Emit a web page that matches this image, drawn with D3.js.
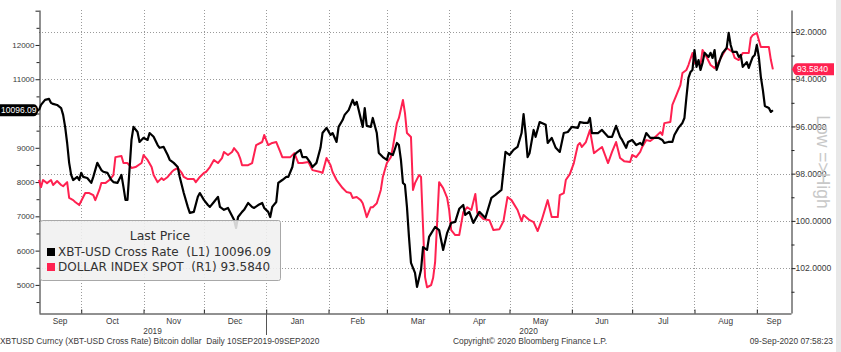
<!DOCTYPE html>
<html>
<head>
<meta charset="utf-8">
<script src="https://cdnjs.cloudflare.com/ajax/libs/d3/7.8.5/d3.min.js"></script>
<style>
  html, body { margin: 0; padding: 0; background: #fff; }
  svg { display: block; font-family: "Liberation Sans", Arial, sans-serif; }
</style>
</head>
<body>
<div id="vis"></div>
<script>
// XBT-USD vs DXY (inverted) – Bloomberg style chart

// Bitcoin (left axis)
const xbtDates = ["2019-09-10","2019-09-11","2019-09-13","2019-09-15","2019-09-16","2019-09-17","2019-09-19","2019-09-21","2019-09-22","2019-09-23","2019-09-24","2019-09-25","2019-09-26","2019-09-27","2019-09-29","2019-09-30",
  "2019-10-01","2019-10-02","2019-10-04","2019-10-06","2019-10-07","2019-10-09","2019-10-11","2019-10-12","2019-10-14","2019-10-16","2019-10-17","2019-10-19","2019-10-21","2019-10-22","2019-10-23","2019-10-24","2019-10-25","2019-10-26","2019-10-27","2019-10-29","2019-10-30",
  "2019-11-01","2019-11-03","2019-11-04","2019-11-06","2019-11-08","2019-11-09","2019-11-11","2019-11-13","2019-11-14","2019-11-16","2019-11-18","2019-11-19","2019-11-21","2019-11-23","2019-11-24","2019-11-26","2019-11-28","2019-11-29",
  "2019-12-01","2019-12-03","2019-12-04","2019-12-06","2019-12-08","2019-12-09","2019-12-11","2019-12-13","2019-12-14","2019-12-16","2019-12-17","2019-12-18","2019-12-20","2019-12-21","2019-12-23","2019-12-25","2019-12-26","2019-12-28","2019-12-30","2019-12-31",
  "2020-01-02","2020-01-03","2020-01-04","2020-01-06","2020-01-07","2020-01-09","2020-01-11","2020-01-12","2020-01-14","2020-01-15","2020-01-16","2020-01-18","2020-01-19","2020-01-21","2020-01-23","2020-01-24","2020-01-26","2020-01-28","2020-01-29","2020-01-31",
  "2020-02-02","2020-02-03","2020-02-05","2020-02-06","2020-02-08","2020-02-09","2020-02-11","2020-02-13","2020-02-14","2020-02-15","2020-02-16","2020-02-18","2020-02-19","2020-02-20","2020-02-22","2020-02-23","2020-02-25","2020-02-26","2020-02-28",
  "2020-03-01","2020-03-02","2020-03-04","2020-03-06","2020-03-07","2020-03-08","2020-03-09","2020-03-10","2020-03-11","2020-03-12","2020-03-13","2020-03-15","2020-03-16","2020-03-18","2020-03-19","2020-03-21","2020-03-22","2020-03-25","2020-03-27","2020-03-29","2020-03-31",
  "2020-04-02","2020-04-04","2020-04-06","2020-04-08","2020-04-09","2020-04-11","2020-04-13","2020-04-16","2020-04-19","2020-04-22","2020-04-24","2020-04-27","2020-04-29",
  "2020-05-01","2020-05-03","2020-05-05","2020-05-07","2020-05-08","2020-05-09","2020-05-10","2020-05-11","2020-05-13","2020-05-14","2020-05-16","2020-05-19","2020-05-20","2020-05-22","2020-05-24","2020-05-26","2020-05-28","2020-05-30",
  "2020-06-01","2020-06-04","2020-06-05","2020-06-07","2020-06-09","2020-06-10","2020-06-11","2020-06-14","2020-06-16","2020-06-19","2020-06-21","2020-06-23","2020-06-25","2020-06-26","2020-06-28","2020-06-29",
  "2020-07-01","2020-07-03","2020-07-05","2020-07-06","2020-07-08","2020-07-10","2020-07-11","2020-07-14","2020-07-16","2020-07-17","2020-07-19","2020-07-21","2020-07-22","2020-07-24","2020-07-26","2020-07-27","2020-07-28","2020-07-29","2020-07-30","2020-07-31",
  "2020-08-01","2020-08-02","2020-08-03","2020-08-04","2020-08-05","2020-08-06","2020-08-08","2020-08-09","2020-08-10","2020-08-11","2020-08-12","2020-08-14","2020-08-15","2020-08-17","2020-08-18","2020-08-19","2020-08-20","2020-08-22","2020-08-23","2020-08-24","2020-08-25","2020-08-27","2020-08-28","2020-08-29","2020-08-30","2020-08-31",
  "2020-09-01","2020-09-02","2020-09-03","2020-09-04","2020-09-05","2020-09-06","2020-09-07","2020-09-08","2020-09-09"];
const xbtValues = [10100,10250,10400,10425,10310,10280,10250,10160,9960,9610,9140,8560,8210,8060,8150,8060,
  8270,8150,8120,7975,8150,8560,8350,8300,8270,8060,8000,7975,8210,7860,7480,7480,8350,9230,9610,9460,9170,
  9290,9230,9430,9320,9080,9000,9025,8790,8650,8560,8440,8150,7680,7275,7100,7130,7570,7680,
  7480,7330,7275,7420,7570,7275,7190,7245,7130,6900,6660,6980,7130,7190,7390,7275,7245,7330,7390,7245,
  7130,6980,7275,7420,7975,8060,8150,8150,8440,8790,8850,8940,8730,8730,8560,8440,8560,9000,9430,9580,
  9375,9430,9170,9610,9810,9960,10100,10400,10250,10340,10100,9610,10160,9640,9610,9870,9430,8850,8730,
  8650,8850,8790,9140,9080,8650,7975,7920,7275,6400,5640,5350,4940,5440,6100,6020,6400,6690,6600,6020,6520,
  6810,6840,7220,7330,7040,7130,6810,7130,6950,7540,7625,7770,8880,
  8790,8940,9025,9430,9980,9430,8730,8850,9520,9320,9750,9670,9140,9290,9000,8880,9430,9460,
  9610,9580,9750,9725,9725,9870,9430,9430,9520,9320,9320,9640,9320,9230,9000,9170,
  9230,9080,9140,9080,9430,9290,9290,9290,9230,9140,9170,9170,9375,9580,9725,9870,10480,11040,11210,11270,
  11850,11360,11560,11270,11475,11770,11650,11770,11620,11850,11270,11620,11770,11910,12350,12000,11800,11800,11650,11710,11360,11500,11330,11500,11650,11710,
  12000,11650,11070,10690,10220,10190,10160,10045,10096.09];

// Dollar index spot (right axis, inverted)
const dxyDates = ["2019-09-10","2019-09-11","2019-09-12","2019-09-14","2019-09-16","2019-09-17","2019-09-19","2019-09-21","2019-09-22","2019-09-24","2019-09-25","2019-09-27","2019-09-28","2019-09-30",
  "2019-10-02","2019-10-03","2019-10-05","2019-10-07","2019-10-08","2019-10-10","2019-10-11","2019-10-13","2019-10-15","2019-10-17","2019-10-18","2019-10-21","2019-10-22","2019-10-24","2019-10-26","2019-10-28","2019-10-31",
  "2019-11-01","2019-11-03","2019-11-05","2019-11-06","2019-11-08","2019-11-10","2019-11-11","2019-11-13","2019-11-15","2019-11-16","2019-11-18","2019-11-20","2019-11-21","2019-11-23","2019-11-26","2019-11-27","2019-11-29",
  "2019-12-01","2019-12-02","2019-12-04","2019-12-06","2019-12-08","2019-12-10","2019-12-11","2019-12-13","2019-12-15","2019-12-16","2019-12-18","2019-12-19","2019-12-20","2019-12-23","2019-12-25","2019-12-27","2019-12-30","2019-12-31",
  "2020-01-02","2020-01-04","2020-01-06","2020-01-08","2020-01-09","2020-01-13","2020-01-15","2020-01-17","2020-01-19","2020-01-22","2020-01-24","2020-01-28","2020-01-29","2020-01-31",
  "2020-02-02","2020-02-03","2020-02-05","2020-02-08","2020-02-10","2020-02-12","2020-02-13","2020-02-15","2020-02-17","2020-02-18","2020-02-19","2020-02-20","2020-02-22","2020-02-23","2020-02-25","2020-02-27","2020-02-28",
  "2020-03-01","2020-03-03","2020-03-04","2020-03-06","2020-03-07","2020-03-09","2020-03-10","2020-03-11","2020-03-13","2020-03-14","2020-03-15","2020-03-17","2020-03-18","2020-03-19","2020-03-20","2020-03-21","2020-03-23","2020-03-24","2020-03-25","2020-03-26","2020-03-27","2020-03-29","2020-03-31",
  "2020-04-01","2020-04-02","2020-04-04","2020-04-06","2020-04-08","2020-04-10","2020-04-12","2020-04-14","2020-04-15","2020-04-18","2020-04-21","2020-04-23","2020-04-26","2020-04-28","2020-04-30",
  "2020-05-02","2020-05-05","2020-05-07","2020-05-08","2020-05-11","2020-05-13","2020-05-15","2020-05-17","2020-05-20","2020-05-22","2020-05-25","2020-05-26","2020-05-28","2020-05-29","2020-05-31",
  "2020-06-02","2020-06-04","2020-06-05","2020-06-06","2020-06-08","2020-06-10","2020-06-12","2020-06-14","2020-06-16","2020-06-19","2020-06-21","2020-06-23","2020-06-25","2020-06-27","2020-06-30",
  "2020-07-01","2020-07-03","2020-07-05","2020-07-06","2020-07-08","2020-07-10","2020-07-12","2020-07-15","2020-07-16","2020-07-17","2020-07-20","2020-07-21","2020-07-23","2020-07-25","2020-07-26","2020-07-28","2020-07-29","2020-07-31",
  "2020-08-01","2020-08-02","2020-08-04","2020-08-05","2020-08-07","2020-08-09","2020-08-11","2020-08-13","2020-08-15","2020-08-17","2020-08-20","2020-08-21","2020-08-23","2020-08-25","2020-08-28","2020-08-29","2020-08-30",
  "2020-09-01","2020-09-03","2020-09-05","2020-09-07","2020-09-08","2020-09-09"];
const dxyValues = [98.27,98.57,98.27,98.40,98.27,98.48,98.31,98.48,98.53,98.36,99.03,99.12,99.20,99.33,
  98.99,98.82,98.82,98.91,99.12,98.69,98.40,98.40,98.27,98.06,97.30,97.25,97.55,97.55,97.76,97.72,97.55,
  97.21,97.42,97.72,98.06,98.36,98.19,98.27,98.14,97.93,97.85,97.76,97.97,98.14,98.23,98.23,98.36,98.14,
  97.97,97.93,97.72,97.42,97.55,97.34,97.08,97.21,97.08,96.92,97.13,97.34,97.64,97.64,97.55,96.79,96.66,96.36,
  96.79,96.70,96.66,97.08,97.30,97.30,97.13,97.55,97.55,97.51,97.85,97.93,97.97,97.34,
  97.64,97.93,98.27,98.61,98.78,98.82,99.03,98.99,99.12,99.25,99.54,99.84,99.42,99.42,99.25,98.69,98.14,
  97.55,97.30,96.87,95.86,95.64,94.88,95.43,96.28,96.45,98.69,98.40,98.06,98.14,100.26,102.38,102.81,102.72,102.42,101.75,100.09,98.36,98.61,99.03,
  99.54,100.39,100.60,100.60,99.63,99.42,99.54,98.86,99.67,99.92,99.97,100.39,100.35,100.01,98.99,
  99.12,99.54,100.01,99.75,99.97,100.05,100.43,99.97,99.12,99.84,99.84,98.91,98.82,98.27,98.02,
  97.55,96.79,96.70,96.87,96.66,96.15,97.13,97.00,96.87,97.55,97.08,96.66,97.34,97.47,97.51,
  97.21,97.30,97.08,96.87,96.58,96.62,96.49,96.24,96.36,95.86,95.81,95.09,94.67,94.25,93.74,93.61,93.40,92.89,
  93.31,93.31,93.40,92.76,93.06,93.40,93.53,93.27,92.97,92.68,92.85,93.10,93.19,92.89,92.89,92.25,92.13,
  92.04,92.64,92.64,92.64,93.19,93.584];

// Axis ticks
const leftMajor = [5000, 6000, 7000, 8000, 9000, 10000, 11000, 12000, 13000];
const leftMinor = [4500, 5500, 6500, 7500, 8500, 9500, 10500, 11500, 12500];
const leftHidden = [10000, 13000];
const rightMajor = [92, 94, 96, 98, 100, 102];
const rightMinor = [93, 95, 97, 99, 101, 103];
const lastXbt = 10096.09;
const lastDxy = 93.584;

const width = 841, height = 352;
const plot = { left: 39, right: 791, top: 10, bottom: 313 };
const parse = d3.timeParse("%Y-%m-%d");
const xbt = xbtDates.map((d, i) => ({ date: parse(d), value: xbtValues[i] }));
const dxy = dxyDates.map((d, i) => ({ date: parse(d), value: dxyValues[i] }));

const svg = d3.select("#vis").append("svg")
  .attr("width", width)
  .attr("height", height);

svg.append("rect").attr("width", width).attr("height", height).attr("fill", "#fff");

const x = d3.scaleTime()
  .domain([new Date(2019, 8, 10), new Date(2020, 8, 18)])
  .range([plot.left, plot.right]);
const yL = d3.scaleLinear().domain([4180, 13020]).range([plot.bottom, plot.top]);
const yR = d3.scaleLinear().domain([103.9, 91.07]).range([plot.bottom, plot.top]);

const months = d3.timeMonth.range(new Date(2019, 9, 1), new Date(2020, 8, 2));
const textCol = "#3a3a3a";

// grid
svg.append("g")
  .selectAll("line")
  .data(rightMajor)
  .join("line")
  .attr("x1", plot.left).attr("x2", plot.right)
  .attr("y1", d => Math.round(yR(d)) + 0.5).attr("y2", d => Math.round(yR(d)) + 0.5)
  .attr("stroke", "#9a9a9a").attr("stroke-dasharray", "1,2");

svg.append("g")
  .selectAll("line")
  .data(months)
  .join("line")
  .attr("x1", d => Math.round(x(d)) + 0.5).attr("x2", d => Math.round(x(d)) + 0.5)
  .attr("y1", plot.top).attr("y2", plot.bottom)
  .attr("stroke", "#9a9a9a").attr("stroke-dasharray", "1,2");

// left axis
const axL = svg.append("g")
  .attr("transform", `translate(${plot.left + 0.5},0)`)
  .call(d3.axisLeft(yL).tickValues(leftMajor).tickSize(4).tickSizeOuter(0)
    .tickFormat(d => leftHidden.includes(d) ? "" : d));
svg.append("g")
  .attr("transform", `translate(${plot.left + 0.5},0)`)
  .call(d3.axisLeft(yL).tickValues(leftMinor).tickSize(3).tickFormat(""))
  .select(".domain").remove();

// right axis
const axR = svg.append("g")
  .attr("transform", `translate(${plot.right + 0.5},0)`)
  .call(d3.axisRight(yR).tickValues(rightMajor).tickSize(4).tickSizeOuter(0)
    .tickFormat(d3.format(".4f")));
svg.append("g")
  .attr("transform", `translate(${plot.right + 0.5},0)`)
  .call(d3.axisRight(yR).tickValues(rightMinor).tickSize(3).tickFormat(""))
  .select(".domain").remove();

// bottom axis
svg.append("g")
  .attr("transform", `translate(0,${plot.bottom + 0.5})`)
  .call(d3.axisBottom(x).tickValues(months).tickSize(-4).tickSizeOuter(0).tickFormat(""));

svg.selectAll(".domain").attr("stroke", "#222");
svg.selectAll(".tick line").attr("stroke", "#222");
svg.selectAll(".tick text").attr("fill", textCol).style("font-size", "8px");
axL.selectAll(".tick text").attr("x", -5);
axR.selectAll(".tick text").attr("x", 4).style("font-size", "8.6px");

// month labels
const clampMid = m => {
  const a = Math.max(x(m), plot.left);
  const b = Math.min(x(d3.timeMonth.offset(m, 1)), plot.right);
  return (a + b) / 2;
};
const monthStarts = d3.timeMonth.range(new Date(2019, 8, 1), new Date(2020, 8, 2));
svg.append("g")
  .selectAll("text")
  .data(monthStarts)
  .join("text")
  .attr("x", d => clampMid(d))
  .attr("y", 324)
  .attr("text-anchor", "middle")
  .attr("fill", textCol)
  .style("font-size", "8.3px")
  .text(d3.timeFormat("%b"));

// years
const yearBreak = x(new Date(2020, 0, 1));
svg.append("line")
  .attr("x1", Math.round(yearBreak) + 0.5).attr("x2", Math.round(yearBreak) + 0.5)
  .attr("y1", plot.bottom).attr("y2", 335)
  .attr("stroke", "#555");
[["2019", (plot.left + yearBreak) / 2], ["2020", (yearBreak + plot.right) / 2]].forEach(([t, cx]) => {
  svg.append("text")
    .attr("x", cx).attr("y", 334)
    .attr("text-anchor", "middle")
    .attr("fill", textCol)
    .style("font-size", "8.3px")
    .text(t);
});

// lines
const lineL = d3.line().x(d => x(d.date)).y(d => yL(d.value));
const lineR = d3.line().x(d => x(d.date)).y(d => yR(d.value));

svg.append("path")
  .datum(dxy)
  .attr("d", lineR)
  .attr("fill", "none")
  .attr("stroke", "#ff2150")
  .attr("stroke-width", 2)
  .attr("stroke-linejoin", "round");

svg.append("path")
  .datum(xbt)
  .attr("d", lineL)
  .attr("fill", "none")
  .attr("stroke", "#000")
  .attr("stroke-width", 2.2)
  .attr("stroke-linejoin", "round");

// legend
const lg = svg.append("g").style("font-family", "'DejaVu Sans', Verdana, sans-serif");
lg.append("rect")
  .attr("x", 40.5).attr("y", 220.5)
  .attr("width", 240).attr("height", 60)
  .attr("rx", 2)
  .attr("fill", "rgba(240,240,240,0.88)")
  .attr("stroke", "#a8a8a8");
lg.append("text")
  .attr("x", 160).attr("y", 240)
  .attr("text-anchor", "middle")
  .attr("fill", "#333")
  .style("font-size", "12.5px")
  .text("Last Price");
[["XBT-USD Cross Rate\u00a0\u00a0(L1) 10096.09", "#000", 256], ["DOLLAR INDEX SPOT\u00a0\u00a0(R1) 93.5840", "#ff2150", 271]].forEach(([t, c, yy]) => {
  lg.append("rect")
    .attr("x", 47).attr("y", yy - 8)
    .attr("width", 8).attr("height", 8)
    .attr("fill", c);
  lg.append("text")
    .attr("x", 58).attr("y", yy)
    .attr("fill", "#333")
    .style("font-size", "12px")
    .text(t);
});

// last value labels
const yl = yL(lastXbt);
svg.append("path")
  .attr("d", `M0,${yl - 6} H34 Q36,${yl - 6} 37,${yl - 4} L39,${yl} L37,${yl + 4} Q36,${yl + 6} 34,${yl + 6} H0 Z`)
  .attr("fill", "#000");
svg.append("text")
  .attr("x", 1).attr("y", yl + 3)
  .attr("fill", "#fff")
  .style("font-size", "8.5px")
  .text(d3.format(".2f")(lastXbt));

const yr = yR(lastDxy);
svg.append("path")
  .attr("d", `M834,${yr - 6} H797 Q795,${yr - 6} 794,${yr - 4} L792,${yr} L794,${yr + 4} Q795,${yr + 6} 797,${yr + 6} H834 Z`)
  .attr("fill", "#ff2150");
svg.append("text")
  .attr("x", 797).attr("y", yr + 3)
  .attr("fill", "#fff")
  .style("font-size", "8.6px")
  .text(d3.format(".4f")(lastDxy));

// rotated note
svg.append("text")
  .attr("transform", "translate(817,162) rotate(90)")
  .attr("text-anchor", "middle")
  .attr("fill", "#c8c8c8")
  .style("font-size", "17.5px")
  .text("Low =>High");

// footer
const foot = (t, xx, anchor) => svg.append("text")
  .attr("x", xx).attr("y", 344)
  .attr("text-anchor", anchor)
  .attr("fill", textCol)
  .style("font-size", "8.4px")
  .text(t);
foot("XBTUSD Curncy (XBT-USD Cross Rate) Bitcoin dollar\u00a0\u00a0Daily 10SEP2019-09SEP2020", 0, "start");
foot("Copyright\u00a9 2020 Bloomberg Finance L.P.", 453, "start");
foot("09-Sep-2020 07:58:23", 833, "end");

// frame strip on the right
svg.append("rect").attr("x", 836).attr("y", 0).attr("width", 5).attr("height", height).attr("fill", "#e8e8e8");
</script>
</body>
</html>
